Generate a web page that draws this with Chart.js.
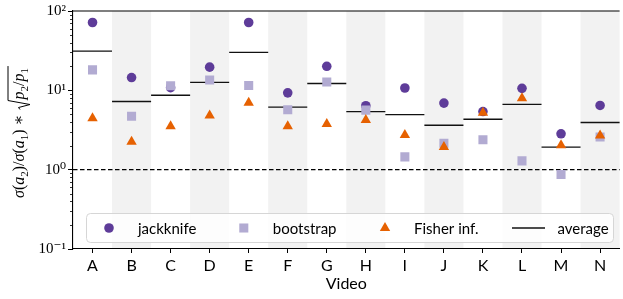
<!DOCTYPE html>
<html>
<head>
<meta charset="utf-8">
<script src="https://cdn.jsdelivr.net/npm/chart.js@4.4.0/dist/chart.umd.min.js"></script>
<style>
    html, body { margin: 0; padding: 0; background: #fff; overflow: hidden; }
    #wrap { width: 626px; height: 299px; position: relative; }
</style>
</head>
<body>
<div id="wrap"><canvas id="myChart"></canvas></div>
<script>
// values (log scale)
var videos = ['A', 'B', 'C', 'D', 'E', 'F', 'G', 'H', 'I', 'J', 'K', 'L', 'M', 'N'];
var jackknife = [71.6, 14.5, 10.8, 19.6, 71.6, 9.3, 20.1, 6.4, 10.7, 6.9, 5.4, 10.6, 2.83, 6.45];
var bootstrap = [18.1, 4.7, 11.4, 13.5, 11.5, 5.7, 12.7, 5.63, 1.45, 2.15, 2.38, 1.29, 0.87, 2.58];
var fisher = [4.44, 2.25, 3.53, 4.8, 6.97, 3.53, 3.77, 4.23, 2.73, 1.93, 5.23, 7.96, 2.03, 2.7];
var average = [31.2, 7.23, 8.67, 12.6, 30.1, 6.14, 12.2, 5.38, 4.94, 3.63, 4.32, 6.64, 1.92, 3.93];
var yTicks = [0.1, 1, 10, 100];
var yTickLabels = ['10\u207B\u00B9', '10\u2070', '10\u00B9', '10\u00B2'];
var refLine = 1;

var SANS = 'Lato, "DejaVu Sans", sans-serif';
var SERIF = '"Liberation Serif", "DejaVu Serif", serif';

function halfBand(chart) {
    var x = chart.scales.x;
    return (x.getPixelForValue(1) - x.getPixelForValue(0)) / 2;
}

// grey bands behind every other video + dashed line at 1
var backdrop = {
    id: 'backdrop',
    beforeDraw: function (chart) {
        var ctx = chart.ctx, a = chart.chartArea, x = chart.scales.x, y = chart.scales.y;
        var h = halfBand(chart);
        ctx.save();
        ctx.fillStyle = '#f2f2f2';
        for (var i = 1; i < videos.length; i += 2) {
            var cx = x.getPixelForValue(i);
            ctx.fillRect(cx - h, a.top, 2 * h, a.bottom - a.top);
        }
        var yy = y.getPixelForValue(refLine);
        ctx.strokeStyle = '#000';
        ctx.lineWidth = 1.1;
        ctx.setLineDash([4.5, 2.5]);
        ctx.beginPath();
        ctx.moveTo(a.left, yy);
        ctx.lineTo(a.right, yy);
        ctx.stroke();
        ctx.restore();
    }
};

function drawMarker(ctx, style, x, y, r) {
    ctx.beginPath();
    if (style === 'circle') {
        ctx.arc(x, y, r, 0, Math.PI * 2);
    } else if (style === 'rect') {
        var s = r * Math.SQRT1_2;
        ctx.rect(x - s, y - s, 2 * s, 2 * s);
    } else if (style === 'triangle') {
        ctx.moveTo(x, y - r);
        ctx.lineTo(x + r * 0.866, y + r / 2);
        ctx.lineTo(x - r * 0.866, y + r / 2);
        ctx.closePath();
    }
    ctx.fill();
}

var extras = {
    id: 'extras',
    afterDraw: function (chart) {
        var ctx = chart.ctx, a = chart.chartArea, y = chart.scales.y;
        ctx.save();

        // minor ticks on the log axis
        ctx.strokeStyle = '#000';
        ctx.lineWidth = 0.8;
        for (var d = 0; d < yTicks.length - 1; d++) {
            for (var k = 2; k < 10; k++) {
                var py = Math.round(y.getPixelForValue(yTicks[d] * k)) + 0.5;
                ctx.beginPath();
                ctx.moveTo(a.left - 3, py);
                ctx.lineTo(a.left, py);
                ctx.stroke();
            }
        }
        // top spine
        ctx.lineWidth = 1.1;
        ctx.beginPath();
        ctx.moveTo(a.left, a.top);
        ctx.lineTo(a.right, a.top);
        ctx.stroke();

        // legend
        var bx = 86, by = 213, bw = 527, bh = 29;
        ctx.fillStyle = 'rgba(255,255,255,0.8)';
        ctx.strokeStyle = '#d6d6d6';
        ctx.lineWidth = 1;
        ctx.beginPath();
        ctx.roundRect(bx + 0.5, by + 0.5, bw, bh, 4);
        ctx.fill();
        ctx.stroke();
        var cols = [92.5, 227.3, 368.5, 512];
        var cy = by + bh / 2 + 0.5;
        ctx.font = '15px ' + SANS;
        ctx.textBaseline = 'middle';
        chart.data.datasets.forEach(function (ds, i) {
            var hx = cols[i];
            if (ds.pointStyle === 'line') {
                ctx.strokeStyle = ds.pointBorderColor;
                ctx.lineWidth = 1.3;
                ctx.beginPath();
                ctx.moveTo(hx, cy);
                ctx.lineTo(hx + 33, cy);
                ctx.stroke();
            } else {
                ctx.fillStyle = ds.pointBackgroundColor;
                drawMarker(ctx, ds.pointStyle, hx + 16.5, cy, ds.pointRadius);
            }
            ctx.fillStyle = '#000';
            ctx.fillText(ds.label, hx + 45.5, cy + 1);
        });

        // y axis title: sigma(a2)/sigma(a1) * sqrt(p2/p1)
        var fs = 16;
        var parts = [['\u03C3', 'i'], ['(', ''], ['a', 'i'], ['2', 's'], [')', ''], ['/', ''],
                     ['\u03C3', 'i'], ['(', ''], ['a', 'i'], ['1', 's'], [')', ''], [' \u2217 ', '']];
        var inner = [['p', 'i'], ['2', 's'], ['/', ''], ['p', 'i'], ['1', 's']];
        function setFont(st) {
            if (st === 'i') ctx.font = 'italic ' + fs + 'px ' + SERIF;
            else if (st === 's') ctx.font = Math.round(fs * 0.7) + 'px ' + SERIF;
            else ctx.font = fs + 'px ' + SERIF;
        }
        function width(list) {
            var w = 0;
            list.forEach(function (p) { setFont(p[1]); w += ctx.measureText(p[0]).width; });
            return w;
        }
        var radW = 11;
        var total = width(parts) + radW + width(inner) + 2;
        ctx.translate(24, (a.top + a.bottom) / 2 + 2);
        ctx.rotate(-Math.PI / 2);
        ctx.textBaseline = 'alphabetic';
        ctx.fillStyle = '#000';
        var u = -total / 2;
        function drawList(list) {
            list.forEach(function (p) {
                setFont(p[1]);
                ctx.fillText(p[0], u, p[1] === 's' ? 4 : 0);
                u += ctx.measureText(p[0]).width;
            });
        }
        drawList(parts);
        var r0 = u;
        ctx.strokeStyle = '#000';
        ctx.lineWidth = 1;
        ctx.beginPath();
        ctx.moveTo(r0 + 1, -4);
        ctx.lineTo(r0 + 3, -5.5);
        ctx.lineTo(r0 + 6, 6);
        ctx.lineTo(r0 + 10, -16);
        ctx.lineTo(r0 + radW + width(inner) + 2, -16);
        ctx.stroke();
        u = r0 + radW;
        drawList(inner);

        ctx.restore();
    }
};

var ctx = document.getElementById('myChart').getContext('2d');
var chart = new Chart(ctx, {
    type: 'line',
    data: {
        labels: videos,
        datasets: [{
            label: 'jackknife',
            data: jackknife,
            showLine: false,
            pointStyle: 'circle',
            pointRadius: 4.8,
            pointBackgroundColor: '#5e3c99',
            pointBorderWidth: 0,
            order: 3
        }, {
            label: 'bootstrap',
            data: bootstrap,
            showLine: false,
            pointStyle: 'rect',
            pointRadius: 6.4,
            pointBackgroundColor: '#b2abd2',
            pointBorderWidth: 0,
            order: 2
        }, {
            label: 'Fisher inf.',
            data: fisher,
            showLine: false,
            pointStyle: 'triangle',
            pointRadius: 6,
            pointBackgroundColor: '#e66101',
            pointBorderWidth: 0,
            order: 1
        }, {
            label: 'average',
            data: average,
            showLine: false,
            pointStyle: 'line',
            pointRadius: function (c) { return c.chart.scales.x ? halfBand(c.chart) : 19.7; },
            pointBorderColor: '#111',
            pointBorderWidth: 1.3,
            order: 4
        }]
    },
    options: {
        responsive: true,
        maintainAspectRatio: false,
        devicePixelRatio: 1,
        animation: false,
        events: [],
        layout: { padding: { top: 8, right: 1, left: 0, bottom: 0 } },
        plugins: { legend: { display: false }, tooltip: { enabled: false } },
        scales: {
            x: {
                type: 'category',
                offset: true,
                grid: { offset: false, drawOnChartArea: false, tickLength: 4, tickColor: '#000' },
                border: { color: '#000', width: 1.1 },
                ticks: { color: '#000', font: { family: SANS, size: 16 }, padding: 3, maxRotation: 0, autoSkip: false },
                title: { display: true, text: 'Video', color: '#000', font: { family: SANS, size: 16 }, padding: { top: 0, bottom: 6 } },
                afterFit: function (s) { s.height = 50; }
            },
            y: {
                type: 'logarithmic',
                min: 0.1,
                max: 100,
                afterBuildTicks: function (s) { s.ticks = yTicks.map(function (v) { return { value: v }; }); },
                grid: { drawOnChartArea: false, tickLength: 5, tickColor: '#000' },
                border: { color: '#000', width: 1.1 },
                ticks: {
                    color: '#000',
                    font: { family: SERIF, size: 15 },
                    padding: 2,
                    callback: function (v) {
                        var i = yTicks.indexOf(v);
                        return i < 0 ? '' : yTickLabels[i];
                    }
                },
                afterFit: function (s) { s.width = 73; }
            }
        }
    },
    plugins: [backdrop, extras]
});
</script>
</body>
</html>
